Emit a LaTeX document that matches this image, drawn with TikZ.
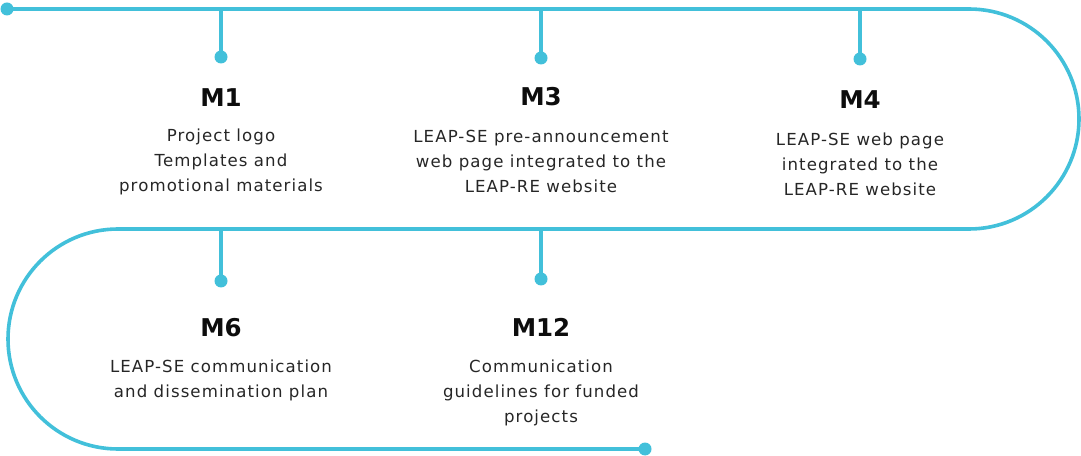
\documentclass[tikz,border=0pt]{standalone}
\usepackage{fontspec}
\setmainfont{DejaVu Sans}
\newfontfamily\bodyfont[LetterSpace=6.5]{DejaVu Sans}
\definecolor{tl}{RGB}{66,192,218}
\begin{document}
\begin{tikzpicture}[x=1pt,y=1pt,
  track/.style={draw=tl,line width=3.6pt},
  dotnode/.style={circle,fill=tl,inner sep=0pt,minimum size=13pt},
  title/.style={font=\bfseries\fontsize{24.5}{28}\selectfont,text=black!95},
  body/.style={font=\bodyfont\fontsize{16.6}{25}\selectfont,align=center,text=black!85}]
\useasboundingbox (0,0) rectangle (1081,455);
% track
\node[dotnode] (start) at (7,446) {};
\node[dotnode] (end) at (645,6) {};
\coordinate (r1) at (969,446);
\coordinate (l1) at (118,226);
\draw[track] (start.center) -- (r1) arc[start angle=90,end angle=-90,radius=110] -- (l1) arc[start angle=90,end angle=270,radius=110] -- (end.center);
% stems
\coordinate (s1) at (221,446); \node[dotnode] (d1) at (221,398) {};
\coordinate (s3) at (541,446); \node[dotnode] (d3) at (541,397) {};
\coordinate (s4) at (860,446); \node[dotnode] (d4) at (860,396) {};
\coordinate (s6) at (221,226); \node[dotnode] (d6) at (221,174) {};
\coordinate (s12) at (541,226); \node[dotnode] (d12) at (541,176) {};
\foreach \a/\b in {s1/d1,s3/d3,s4/d4,s6/d6,s12/d12} \draw[track] (\a) -- (\b.center);
% titles
\node[title] (t1) at (221,357) {M1};
\node[title] (t3) at (541,358) {M3};
\node[title] (t4) at (860,355) {M4};
\node[title] (t6) at (221,127) {M6};
\node[title] (t12) at (541,128) {M12};
% bodies
\node[body] (b1) at (221,293) {Project logo\\Templates and\\promotional materials};
\node[body] (b3) at (541,294) {LEAP-SE pre-announcement\\web page integrated to the\\LEAP-RE website};
\node[body] (b4) at (860,291) {LEAP-SE web page\\integrated to the\\LEAP-RE website};
\node[body] (b6) at (221,74.5) {LEAP-SE communication\\and dissemination plan};
\node[body] (b12) at (541,62) {Communication\\guidelines for funded\\projects};
\end{tikzpicture}
\end{document}
